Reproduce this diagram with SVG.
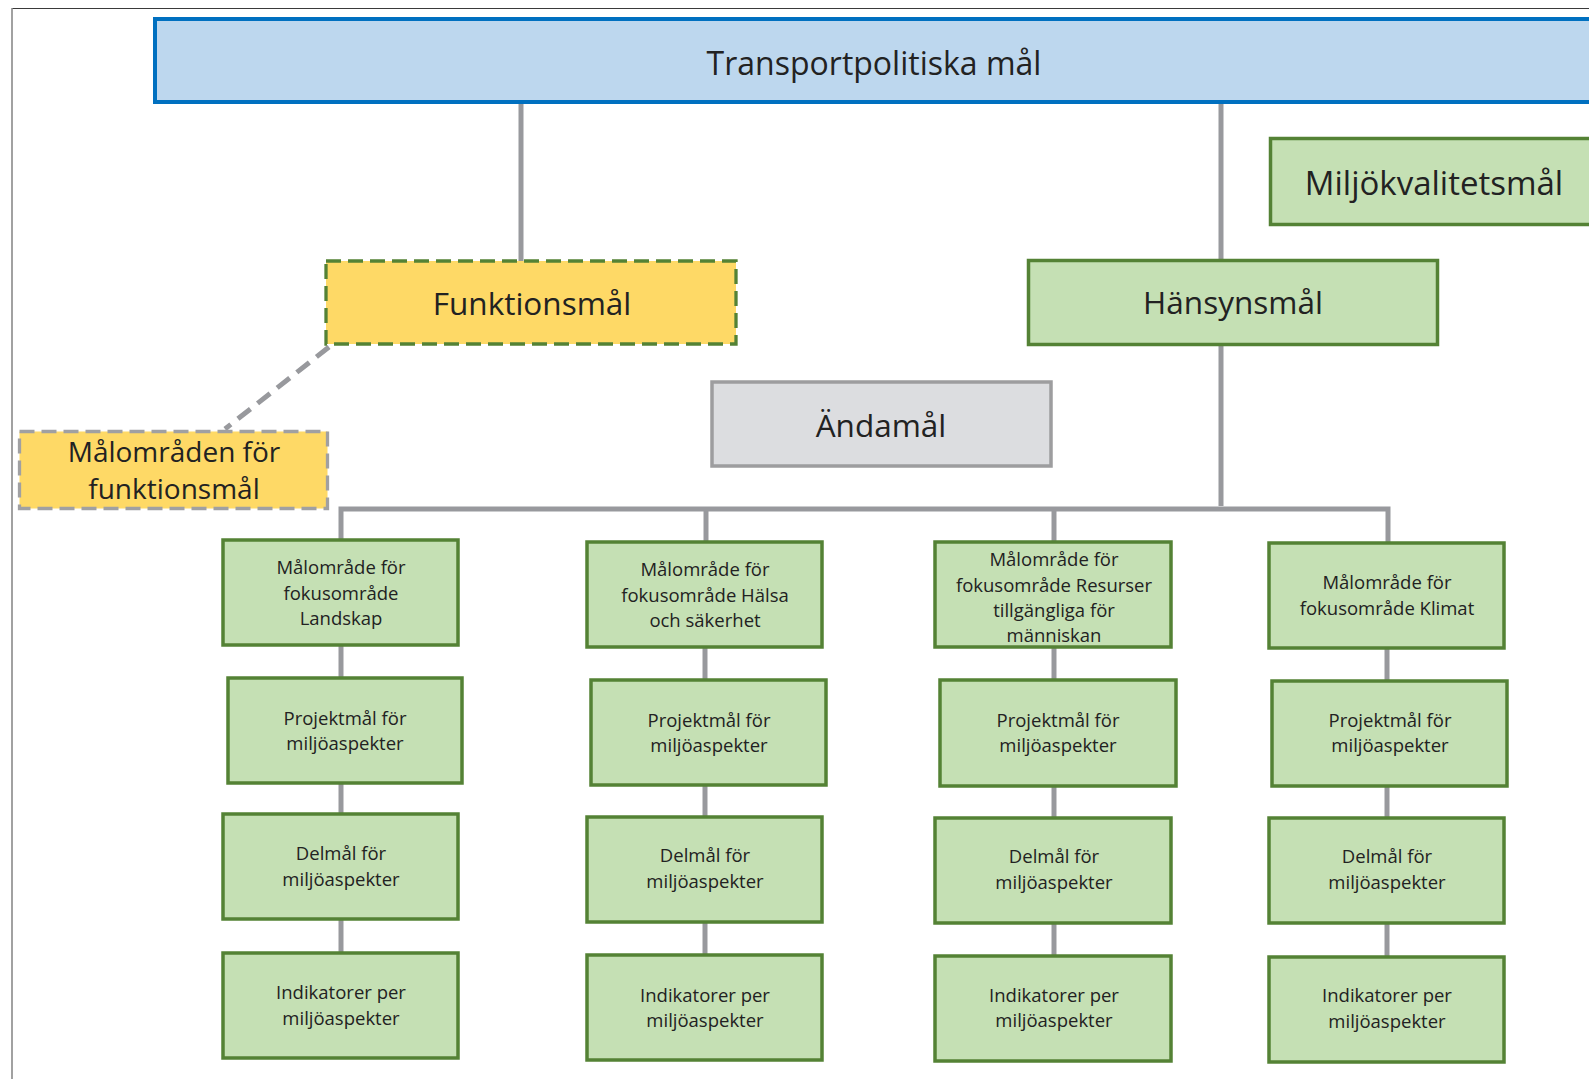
<svg xmlns="http://www.w3.org/2000/svg" width="1589" height="1079" viewBox="0 0 1589 1079">
  <style>
    text { font-family: "Open Sans", "Liberation Sans", sans-serif; fill: #222222; text-anchor: middle; }
    .big { font-size: 31.5px; }
    .small { font-size: 18.5px; }
    .green { fill: #c5e0b4; stroke: #548235; stroke-width: 3.5; }
    .yellow { fill: #fed966; stroke-width: 3.3; stroke-dasharray: 15 7; }
    .link { stroke: #98999d; stroke-width: 5; fill: none; }
  </style>

  <rect width="1589" height="1079" fill="#ffffff"/>

  <!-- page frame -->
  <g id="frame">
    <line x1="12" y1="8.5" x2="1589" y2="8.5" stroke="#3a3a3a" stroke-width="1.2"/>
    <line x1="12" y1="8" x2="12" y2="1079" stroke="#8a8a8a" stroke-width="1.6"/>
  </g>

  <!-- connectors -->
  <g id="connectors">
    <line class="link" x1="521" y1="104" x2="521" y2="261"/>
    <line class="link" x1="1221" y1="104" x2="1221" y2="260"/>
    <line class="link" x1="1221" y1="345" x2="1221" y2="506"/>
    <path class="link" d="M341,540 V509 H1388 V542"/>
    <line class="link" x1="706" y1="509" x2="706" y2="542"/>
    <line class="link" x1="1054" y1="509" x2="1054" y2="542"/>
    <line class="link" x1="329" y1="347" x2="225" y2="429" stroke-dasharray="16 9" stroke-width="5.5"/>
    <!-- column 1 -->
    <line class="link" x1="341" y1="645" x2="341" y2="678"/>
    <line class="link" x1="341" y1="783" x2="341" y2="814"/>
    <line class="link" x1="341" y1="919" x2="341" y2="953"/>
    <!-- column 2 -->
    <line class="link" x1="705" y1="647" x2="705" y2="680"/>
    <line class="link" x1="705" y1="785" x2="705" y2="817"/>
    <line class="link" x1="705" y1="922" x2="705" y2="955"/>
    <!-- column 3 -->
    <line class="link" x1="1054" y1="647" x2="1054" y2="680"/>
    <line class="link" x1="1054" y1="786" x2="1054" y2="818"/>
    <line class="link" x1="1054" y1="923" x2="1054" y2="956"/>
    <!-- column 4 -->
    <line class="link" x1="1387" y1="648" x2="1387" y2="681"/>
    <line class="link" x1="1387" y1="786" x2="1387" y2="818"/>
    <line class="link" x1="1387" y1="923" x2="1387" y2="957"/>
  </g>

  <g id="transportpolitiska">
    <rect x="155" y="19" width="1450" height="83" fill="#bdd7ee" stroke="#0070c0" stroke-width="4"/>
    <text x="874" y="75" font-size="32">Transportpolitiska mål</text>
  </g>

  <g id="miljokvalitetsmal">
    <rect x="1270.5" y="138.5" width="400" height="86" class="green" stroke-width="3"/>
    <text x="1434" y="195" font-size="33">Miljökvalitetsmål</text>
  </g>

  <g id="funktionsmal">
    <rect x="326" y="261" width="410" height="83" class="yellow" stroke="#548235"/>
    <text class="big" x="532" y="315">Funktionsmål</text>
  </g>

  <g id="hansynsmal">
    <rect x="1028.5" y="260.5" width="409" height="84" class="green" stroke-width="3.2"/>
    <text class="big" x="1233" y="314">Hänsynsmål</text>
  </g>

  <g id="andamal">
    <rect x="712" y="382" width="339" height="84" fill="#dcdde0" stroke="#9d9d9f" stroke-width="3.5"/>
    <text class="big" x="881" y="437">Ändamål</text>
  </g>

  <g id="malomraden-funktionsmal">
    <rect x="19.5" y="431.5" width="308" height="77" class="yellow" stroke="#a0a0a2"/>
    <text x="174" y="462" font-size="28">Målområden för</text>
    <text x="174" y="499" font-size="28">funktionsmål</text>
  </g>

  <!-- column 1: Landskap -->
  <g id="malomrade-landskap">
    <rect x="223" y="540" width="235" height="105" class="green"/>
    <text class="small" x="341" y="574">Målområde för</text>
    <text class="small" x="341" y="600">fokusområde</text>
    <text class="small" x="341" y="625">Landskap</text>
  </g>
  <g id="projektmal-1">
    <rect x="228" y="678" width="234" height="105" class="green"/>
    <text class="small" x="345" y="725">Projektmål för</text>
    <text class="small" x="345" y="750">miljöaspekter</text>
  </g>
  <g id="delmal-1">
    <rect x="223" y="814" width="235" height="105" class="green"/>
    <text class="small" x="341" y="860">Delmål för</text>
    <text class="small" x="341" y="886">miljöaspekter</text>
  </g>
  <g id="indikatorer-1">
    <rect x="223" y="953" width="235" height="105" class="green"/>
    <text class="small" x="341" y="999">Indikatorer per</text>
    <text class="small" x="341" y="1025">miljöaspekter</text>
  </g>

  <!-- column 2: Hälsa och säkerhet -->
  <g id="malomrade-halsa">
    <rect x="587" y="542" width="235" height="105" class="green"/>
    <text class="small" x="705" y="576">Målområde för</text>
    <text class="small" x="705" y="602">fokusområde Hälsa</text>
    <text class="small" x="705" y="627">och säkerhet</text>
  </g>
  <g id="projektmal-2">
    <rect x="591" y="680" width="235" height="105" class="green"/>
    <text class="small" x="709" y="727">Projektmål för</text>
    <text class="small" x="709" y="752">miljöaspekter</text>
  </g>
  <g id="delmal-2">
    <rect x="587" y="817" width="235" height="105" class="green"/>
    <text class="small" x="705" y="862">Delmål för</text>
    <text class="small" x="705" y="888">miljöaspekter</text>
  </g>
  <g id="indikatorer-2">
    <rect x="587" y="955" width="235" height="105" class="green"/>
    <text class="small" x="705" y="1002">Indikatorer per</text>
    <text class="small" x="705" y="1027">miljöaspekter</text>
  </g>

  <!-- column 3: Resurser tillgängliga för människan -->
  <g id="malomrade-resurser">
    <rect x="935" y="542" width="236" height="105" class="green"/>
    <text class="small" x="1054" y="566">Målområde för</text>
    <text class="small" x="1054" y="592">fokusområde Resurser</text>
    <text class="small" x="1054" y="617">tillgängliga för</text>
    <text class="small" x="1054" y="642">människan</text>
  </g>
  <g id="projektmal-3">
    <rect x="940" y="680" width="236" height="106" class="green"/>
    <text class="small" x="1058" y="727">Projektmål för</text>
    <text class="small" x="1058" y="752">miljöaspekter</text>
  </g>
  <g id="delmal-3">
    <rect x="935" y="818" width="236" height="105" class="green"/>
    <text class="small" x="1054" y="863">Delmål för</text>
    <text class="small" x="1054" y="889">miljöaspekter</text>
  </g>
  <g id="indikatorer-3">
    <rect x="935" y="956" width="236" height="105" class="green"/>
    <text class="small" x="1054" y="1002">Indikatorer per</text>
    <text class="small" x="1054" y="1027">miljöaspekter</text>
  </g>

  <!-- column 4: Klimat -->
  <g id="malomrade-klimat">
    <rect x="1269" y="543" width="235" height="105" class="green"/>
    <text class="small" x="1387" y="589">Målområde för</text>
    <text class="small" x="1387" y="615">fokusområde Klimat</text>
  </g>
  <g id="projektmal-4">
    <rect x="1272" y="681" width="235" height="105" class="green"/>
    <text class="small" x="1390" y="727">Projektmål för</text>
    <text class="small" x="1390" y="752">miljöaspekter</text>
  </g>
  <g id="delmal-4">
    <rect x="1269" y="818" width="235" height="105" class="green"/>
    <text class="small" x="1387" y="863">Delmål för</text>
    <text class="small" x="1387" y="889">miljöaspekter</text>
  </g>
  <g id="indikatorer-4">
    <rect x="1269" y="957" width="235" height="105" class="green"/>
    <text class="small" x="1387" y="1002">Indikatorer per</text>
    <text class="small" x="1387" y="1028">miljöaspekter</text>
  </g>
</svg>
